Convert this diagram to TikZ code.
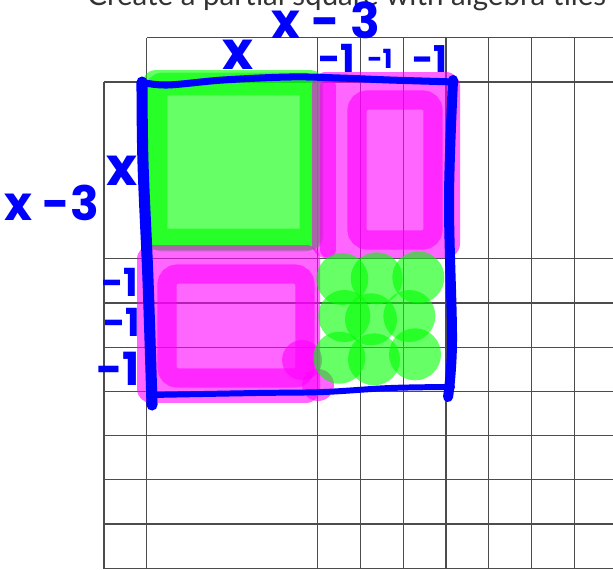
\documentclass[tikz,border=0pt]{standalone}
\usepackage{fontspec}
\setmainfont{Lato}
\newfontfamily\penfont{Poppins}
\definecolor{paintgreen}{RGB}{0,255,0}
\definecolor{paintpink}{RGB}{255,0,255}
\definecolor{penblue}{RGB}{0,0,255}

\begin{document}
\begin{tikzpicture}[x=0.855cm, y=-0.884cm,
  gridline/.style={black!70, line width=0.7pt},
  greenpaint/.style={paintgreen, opacity=0.6},
  pinkpaint/.style={paintpink, opacity=0.6},
  pen/.style={penblue, line cap=round, line join=round},
  penlabel/.style={text=penblue, inner sep=0pt, font=\penfont\bfseries}]
  % Page and bounding box
  \fill[white] (-2.433,-1.855) rectangle (11.906,11.018);
  \useasboundingbox (-2.433,-1.855) rectangle (11.906,11.018);
  % Title (cut off by the top edge)
  \node[anchor=base west, inner sep=0pt, text=black!80, font=\fontsize{16.8}{18}\selectfont]
    (title) at (-0.398,-1.72) {Create a partial square with algebra tiles};
  % Mat grid - x columns and rows have no inner lines
  \draw[gridline] (0,0) -- (0,11.018);
  \foreach \u in {1,5,6,...,11} {
    \draw[gridline] (\u,-1) -- (\u,11.018);
  }
  \draw[gridline] (1,-1) -- (11.906,-1);
  \foreach \v in {0,4,5,...,11} {
    \draw[gridline] (0,\v) -- (11.906,\v);
  }
  % x^2 tile (green)
  \fill[greenpaint, rounded corners=7pt] (0.912,-0.271) rectangle (5.123,3.80);
  \draw[greenpaint, line width=13pt, rounded corners=4pt] (1.216,0.045) rectangle (4.842,3.575);
  % -x tile, right (magenta)
  \fill[pinkpaint, rounded corners=8pt] (4.865,-0.226) rectangle (8.327,3.982);
  \draw[pinkpaint, line width=11pt, rounded corners=6pt] (5.918,0.407) rectangle (7.696,3.575);
  \draw[pinkpaint, line width=9pt, line cap=round] (5.240,0.1) -- (5.240,3.8);
  % -x tile, below (magenta)
  \fill[pinkpaint, rounded corners=8pt] (0.772,3.688) rectangle (5.053,7.262);
  \draw[pinkpaint, line width=11pt, rounded corners=6pt] (1.474,4.344) rectangle (4.702,6.697);
  \fill[pinkpaint] (4.632,6.29) circle (0.4cm);
  \fill[pinkpaint] (5.006,6.855) circle (0.32cm);
  % +1 tiles (green dots)
  \foreach \u/\v in {5.574/4.457, 6.379/4.441, 7.352/4.419,
                     5.621/5.294, 6.246/5.369, 7.142/5.294,
                     5.504/6.238, 6.316/6.274, 7.275/6.161} {
    \fill[greenpaint] (\u,\v) circle (0.52cm);
  }
  % Outline of the square (blue pen)
  \draw[pen, line width=4pt] plot[smooth, tension=0.6] coordinates
    {(0.866,0) (1.474,0.068) (2.784,-0.045) (4.351,-0.113) (5.520,-0.090) (6.690,-0.045) (8.211,0)};
  \draw[pen, line width=5.7pt] plot[smooth, tension=0.6] coordinates
    {(8.164,-0.045) (8.070,2.670) (8.140,5.837) (8.047,7.127)};
  \draw[pen, line width=3.4pt] plot[smooth, tension=0.6] coordinates
    {(1.123,7.081) (3.579,7.036) (5.123,7.014) (6.690,6.923) (8.140,6.900)};
  \draw[pen, line width=6.3pt] plot[smooth, tension=0.6] coordinates
    {(0.889,0) (0.912,1.833) (1.029,4.480) (1.123,7.308)};
  % Side lengths, top
  \node[penlabel, font=\penfont\bfseries\fontsize{28}{28}\selectfont] (topsum) at (5.193,-1.40) {x - 3};
  \node[penlabel, font=\penfont\bfseries\fontsize{30}{30}\selectfont] (topx) at (3.135,-0.611) {x};
  \node[penlabel, font=\penfont\bfseries\fontsize{22}{22}\selectfont] (topone) at (5.450,-0.54) {-1};
  \node[penlabel, font=\penfont\bfseries\fontsize{15}{15}\selectfont] (toptwo) at (6.456,-0.52) {-1};
  \node[penlabel, font=\penfont\bfseries\fontsize{21}{21}\selectfont] (topthree) at (7.626,-0.51) {-1};
  % Side lengths, left
  \node[penlabel, font=\penfont\bfseries\fontsize{27}{27}\selectfont] (sidesum) at (-1.216,2.738) {x -3};
  \node[penlabel, font=\penfont\bfseries\fontsize{30}{30}\selectfont] (sidex) at (0.421,2.014) {x};
  \node[penlabel, font=\penfont\bfseries\fontsize{22}{22}\selectfont] (sideone) at (0.374,4.525) {-1};
  \node[penlabel, font=\penfont\bfseries\fontsize{22}{22}\selectfont] (sidetwo) at (0.421,5.430) {-1};
  \node[penlabel, font=\penfont\bfseries\fontsize{26}{26}\selectfont] (sidethree) at (0.327,6.493) {-1};
\end{tikzpicture}
\end{document}
